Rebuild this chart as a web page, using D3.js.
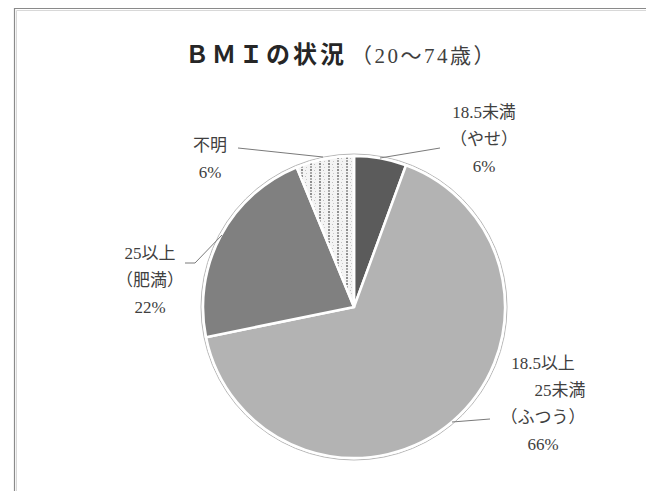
<!DOCTYPE html>
<html>
<head>
<meta charset="utf-8">
<script src="https://cdn.jsdelivr.net/npm/d3@7"></script>
<style>
  body { margin: 0; background: #fff; }
  .label { font-family: "Liberation Serif", "Noto Sans CJK JP", serif; font-size: 17px; fill: #404040; }
  .title-main { font-family: "Noto Sans CJK JP", sans-serif; font-size: 24px; font-weight: bold; fill: #262626; letter-spacing: 3px; }
  .title-sub { font-family: "Liberation Serif", "Noto Sans CJK JP", serif; font-size: 21px; fill: #404040; letter-spacing: 2.5px; }
</style>
</head>
<body>
<svg id="chart" width="646" height="491"></svg>
<script>
// data
const categories = ["18.5未満（やせ）", "18.5以上25未満（ふつう）", "25以上（肥満）", "不明"];
const values = [5.6, 66.2, 22.0, 6.2];
const labelLines = [
  ["18.5未満", "（やせ）"],
  ["18.5以上", "25未満", "（ふつう）"],
  ["25以上", "（肥満）"],
  ["不明"],
];
const titleText = "ＢＭＩの状況";
const subTitleText = "（20～74歳）";

const fills = ["#5b5b5b", "#b3b3b3", "#808080", "url(#dots)"];

// label placement (centre x, first line y, per-line shift) and leader lines
const labelLayout = [
  { x: 484, y: 112, dx: [0, 0, 0] },
  { x: 543, y: 363, dx: [0, 17, 0, 0] },
  { x: 150, y: 253, dx: [0, 0, 0] },
  { x: 210, y: 145, dx: [0, 0] },
];
const leaders = [
  [[380, 158], [440, 148]],
  [[452, 422], [490, 419]],
  [[222, 235], [195, 263], [185, 263]],
  [[323, 157], [238, 148]],
];

const svg = d3.select("#chart");
const cx = 354, cy = 307, radius = 151;
const lineStep = 27;

// pattern for the "unknown" slice
const defs = svg.append("defs");
const pat = defs
  .append("pattern")
  .attr("id", "dots")
  .attr("patternUnits", "userSpaceOnUse")
  .attr("width", 9)
  .attr("height", 6);
pat.append("rect").attr("width", 9).attr("height", 6).attr("fill", "#f4f4f4");
pat.append("rect").attr("x", 1).attr("y", 0).attr("width", 2).attr("height", 2).attr("fill", "#8c8c8c");
pat.append("rect").attr("x", 1).attr("y", 3).attr("width", 2).attr("height", 2).attr("fill", "#a8a8a8");
pat.append("rect").attr("x", 5).attr("y", 1).attr("width", 1).attr("height", 1).attr("fill", "#c0c0c0");
pat.append("rect").attr("x", 6).attr("y", 4).attr("width", 1).attr("height", 1).attr("fill", "#c8c8c8");

// frame
svg
  .append("path")
  .attr("d", "M14.5,491 V8.5 H646")
  .attr("fill", "none")
  .attr("stroke", "#8a8a8a")
  .attr("stroke-width", 1.2);
svg
  .append("path")
  .attr("d", "M16.5,491 V10.5 H646")
  .attr("fill", "none")
  .attr("stroke", "#d8d8d8")
  .attr("stroke-width", 1);

// title
const title = svg.append("text").attr("x", 185).attr("y", 63);
title.append("tspan").attr("class", "title-main").text(titleText);
title.append("tspan").attr("class", "title-sub").attr("dx", 4).text(subTitleText);

// pie
const pie = d3.pie().sort(null).value((d) => d)(values);
const arc = d3.arc().innerRadius(0).outerRadius(radius);

const pieG = svg.append("g").attr("transform", `translate(${cx}, ${cy})`);

pieG
  .append("circle")
  .attr("r", radius + 2)
  .attr("fill", "none")
  .attr("stroke", "#b8b8b8")
  .attr("stroke-width", 1);

pieG
  .selectAll("path")
  .data(pie)
  .join("path")
  .attr("d", arc)
  .attr("fill", (d, i) => fills[i])
  .attr("stroke", "#fff")
  .attr("stroke-width", 2.5)
  .attr("stroke-linejoin", "round");

// leader lines
svg
  .selectAll("path.leader")
  .data(leaders)
  .join("path")
  .attr("class", "leader")
  .attr("d", (d) => d3.line()(d))
  .attr("fill", "none")
  .attr("stroke", "#7a7a7a")
  .attr("stroke-width", 1);

// labels
const total = d3.sum(values);
labelLines.forEach((lines, i) => {
  const lay = labelLayout[i];
  const all = lines.concat([`${Math.round((values[i] / total) * 100)}%`]);
  const t = svg
    .append("text")
    .attr("class", "label")
    .attr("text-anchor", "middle");
  all.forEach((s, j) => {
    t.append("tspan")
      .attr("x", lay.x + (lay.dx[j] || 0))
      .attr("y", lay.y + j * lineStep)
      .attr("dominant-baseline", "central")
      .text(s);
  });
});
</script>
</body>
</html>
